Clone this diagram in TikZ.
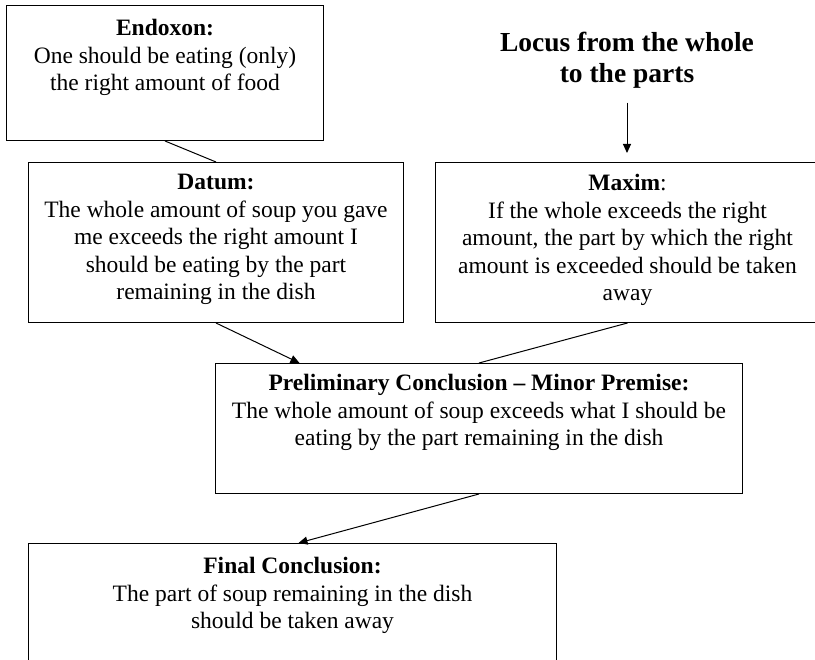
\documentclass[tikz,border=0pt]{standalone}
\usepackage{fontspec}
\setmainfont{Liberation Serif}
\usetikzlibrary{positioning, calc, arrows.meta}
\tikzset{
        box/.style = {draw, rectangle, anchor=north west,
            line width=1pt},
        boxtext/.style = {align=center, inner sep=0pt,
            font=\fontsize{23.5}{27.5}\selectfont},
        locustext/.style = {align=center, anchor=north, inner sep=0pt,
            font=\fontsize{27.5}{31}\selectfont\bfseries},
        arrow/.style = {draw, line width=1pt, -{Triangle[length=9pt,width=8pt]}},
        link/.style = {draw, line width=1pt},
}

\begin{document}
\begin{tikzpicture}[x=1pt, y=-1pt]
\useasboundingbox[fill=white] (0,0) rectangle (815,660);
% boxes
\node [box, minimum width=317pt, minimum height=135pt] (endoxon) at (6,5) {};
\node [box, minimum width=375pt, minimum height=160pt] (datum) at (28,162) {};
\node [box, minimum width=384pt, minimum height=160pt] (maxim) at (435,162) {};
\node [box, minimum width=527pt, minimum height=130pt] (prelim) at (215,363) {};
\node [box, minimum width=528pt, minimum height=130pt] (final) at (28,543) {};
% texts in the boxes
\node [boxtext, below=14pt of endoxon.north] (endoxontext)
    {\textbf{Endoxon:}\\One should be eating (only)\\the right amount of food};
\node [boxtext, below=12pt of datum.north] (datumtext)
    {\textbf{Datum:}\\The whole amount of soup you gave\\me exceeds the right amount I\\should be eating by the part\\remaining in the dish};
\node [boxtext, below=12pt of maxim.north] (maximtext)
    {\textbf{Maxim}:\\If the whole exceeds the right\\amount, the part by which the right\\amount is exceeded should be taken\\away};
\node [boxtext, below=11pt of prelim.north] (prelimtext)
    {\textbf{Preliminary Conclusion -- Minor Premise:}\\The whole amount of soup exceeds what I should be\\eating by the part remaining in the dish};
\node [boxtext, below=14pt of final.north] (finaltext)
    {\textbf{Final Conclusion:}\\The part of soup remaining in the dish\\should be taken away};
\node [locustext] (locus) at (627,32) {Locus from the whole\\to the parts};
% connectors
\draw [link] (endoxon.south) -- (datum.north);
\draw [arrow, shorten <=14pt, shorten >=9pt] (locus.south) -- (locus.south |- maxim.north);
\draw [arrow] (datum.south) -- ($(prelim.north west)!0.16!(prelim.north east)$);
\draw [link] (maxim.south) -- (prelim.north);
\draw [arrow] (prelim.south) -- ($(final.north)+(6,0)$);
\end{tikzpicture}
\end{document}
